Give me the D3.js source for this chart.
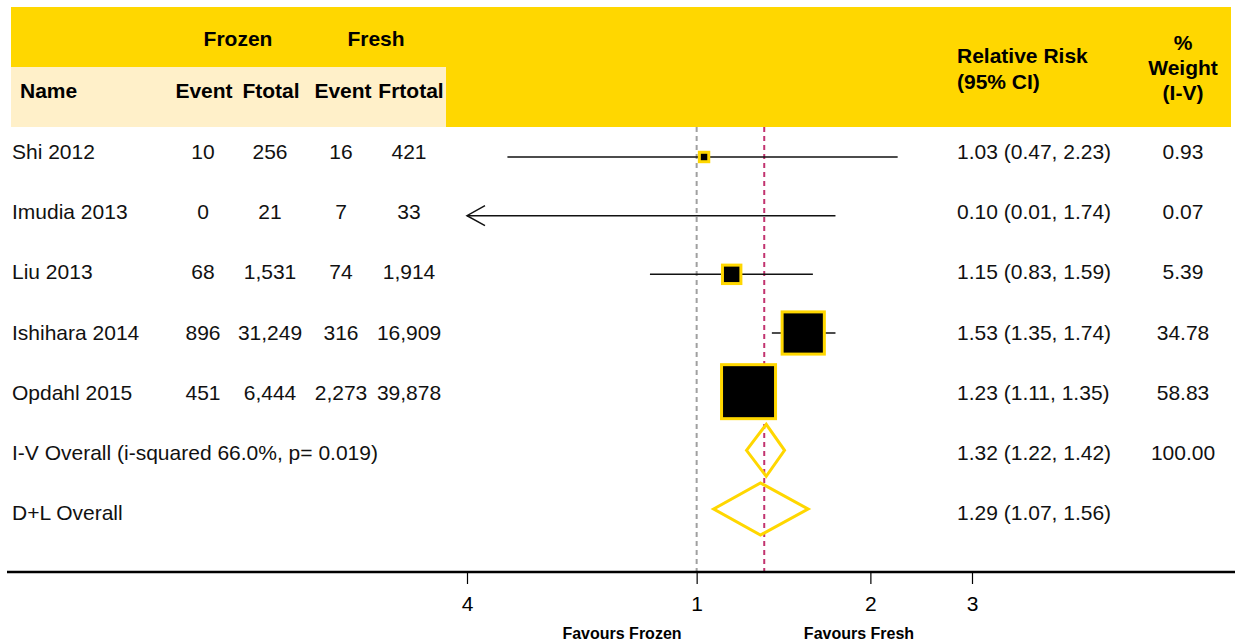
<!DOCTYPE html>
<html>
<head>
<meta charset="utf-8">
<script src="https://cdn.jsdelivr.net/npm/d3@7"></script>
<style>
  body { margin: 0; background: #fff; }
  text { font-family: "Liberation Sans", Arial, sans-serif; }
</style>
</head>
<body>
<svg id="forest" width="1235" height="644"></svg>
<script>
const svg = d3.select("#forest"),
  width = +svg.attr("width"),
  height = +svg.attr("height");

// study rows
const names = ["Shi 2012", "Imudia 2013", "Liu 2013", "Ishihara 2014", "Opdahl 2015"];
const frozenEvent = ["10", "0", "68", "896", "451"];
const frozenTotal = ["256", "21", "1,531", "31,249", "6,444"];
const freshEvent = ["16", "7", "74", "316", "2,273"];
const freshTotal = ["421", "33", "1,914", "16,909", "39,878"];
const rr = [1.03, 0.10, 1.15, 1.53, 1.23];
const lower = [0.47, 0.01, 0.83, 1.35, 1.11];
const upper = [2.23, 1.74, 1.59, 1.74, 1.35];
const weight = [0.93, 0.07, 5.39, 34.78, 58.83];

// pooled rows
const pooledNames = ["I-V Overall (i-squared 66.0%, p= 0.019)", "D+L Overall"];
const pooledRR = [1.32, 1.29];
const pooledLower = [1.22, 1.07];
const pooledUpper = [1.42, 1.56];
const pooledWeight = ["100.00", ""];

// axis
const tickValues = [0.4, 1, 2, 3];
const tickLabels = ["4", "1", "2", "3"];

const gold = "#ffd700";
const cream = "#fff0c9";
const fmt = d3.format(".2f");

// scales
const x = d3.scaleLog().domain([0.4, 3]).range([467, 972]);
const nRows = names.length + pooledNames.length;
const yText = d3.scaleLinear().domain([0, nRows - 1]).range([159, 520]);
const yMark = d3.scaleLinear().domain([0, nRows - 1]).range([157, 509]);
const boxSize = d3.scaleSqrt().domain([0, d3.max(weight)]).range([3, 54]);

// header bands
svg.append("rect").attr("x", 11).attr("y", 7).attr("width", 1220).attr("height", 120).attr("fill", gold);
svg.append("rect").attr("x", 11).attr("y", 67).attr("width", 435).attr("height", 60).attr("fill", cream);

const head = svg.append("g").attr("font-size", 21).attr("font-weight", "bold").attr("fill", "#000");
function headText(t, xx, yy, anchor) {
  head.append("text").attr("x", xx).attr("y", yy).attr("text-anchor", anchor || "middle").text(t);
}
headText("Frozen", 238, 46);
headText("Fresh", 376, 46);
headText("Name", 20, 98, "start");
headText("Event", 204, 98);
headText("Ftotal", 271, 98);
headText("Event", 343, 98);
headText("Frtotal", 411, 98);
headText("Relative Risk", 957, 63, "start");
headText("(95% CI)", 957, 89, "start");
headText("%", 1183, 50);
headText("Weight", 1183, 75);
headText("(I-V)", 1183, 100);

// reference lines
const yTop = 127, yAxis = 572;
svg.append("line")
  .attr("x1", x(1)).attr("x2", x(1)).attr("y1", yTop).attr("y2", yAxis)
  .attr("stroke", "#a0a0a0").attr("stroke-width", 2).attr("stroke-dasharray", "5,4");
svg.append("line")
  .attr("x1", x(pooledRR[0]) - 2).attr("x2", x(pooledRR[0]) - 2).attr("y1", yTop).attr("y2", yAxis)
  .attr("stroke", "#c2336f").attr("stroke-width", 2).attr("stroke-dasharray", "5,4");

// body text
const body = svg.append("g").attr("font-size", 21).attr("fill", "#111");
names.forEach((n, i) => {
  const yy = yText(i);
  body.append("text").attr("x", 12).attr("y", yy).text(n);
  body.append("text").attr("x", 203).attr("y", yy).attr("text-anchor", "middle").text(frozenEvent[i]);
  body.append("text").attr("x", 270).attr("y", yy).attr("text-anchor", "middle").text(frozenTotal[i]);
  body.append("text").attr("x", 341).attr("y", yy).attr("text-anchor", "middle").text(freshEvent[i]);
  body.append("text").attr("x", 409).attr("y", yy).attr("text-anchor", "middle").text(freshTotal[i]);
  body.append("text").attr("x", 957).attr("y", yy)
    .text(`${fmt(rr[i])} (${fmt(lower[i])}, ${fmt(upper[i])})`);
  body.append("text").attr("x", 1183).attr("y", yy).attr("text-anchor", "middle").text(fmt(weight[i]));
});
pooledNames.forEach((n, j) => {
  const yy = yText(names.length + j);
  body.append("text").attr("x", 12).attr("y", yy).text(n);
  body.append("text").attr("x", 957).attr("y", yy)
    .text(`${fmt(pooledRR[j])} (${fmt(pooledLower[j])}, ${fmt(pooledUpper[j])})`);
  body.append("text").attr("x", 1183).attr("y", yy).attr("text-anchor", "middle").text(pooledWeight[j]);
});

// confidence intervals
const plot = svg.append("g");
const [dMin, dMax] = x.domain();
names.forEach((n, i) => {
  const yy = yMark(i);
  const lo = Math.max(lower[i], dMin), hi = Math.min(upper[i], dMax);
  plot.append("line")
    .attr("x1", x(lo)).attr("x2", x(hi)).attr("y1", yy).attr("y2", yy)
    .attr("stroke", "#111").attr("stroke-width", 1.5);
  if (lower[i] < dMin) {
    const tip = x(dMin);
    plot.append("path")
      .attr("d", `M${tip + 18},${yy - 10}L${tip},${yy}L${tip + 18},${yy + 10}`)
      .attr("fill", "none").attr("stroke", "#111").attr("stroke-width", 1.5);
  }
});

// weighted boxes
names.forEach((n, i) => {
  if (rr[i] < dMin) return;
  const s = boxSize(weight[i]);
  plot.append("rect")
    .attr("x", x(rr[i]) - s / 2).attr("y", yMark(i) - s / 2)
    .attr("width", s).attr("height", s)
    .attr("fill", "#000").attr("stroke", gold).attr("stroke-width", 3);
});

// pooled diamonds
pooledNames.forEach((n, j) => {
  const yy = yMark(names.length + j);
  const h = 26;
  const pts = [[x(pooledLower[j]), yy], [x(pooledRR[j]), yy - h], [x(pooledUpper[j]), yy], [x(pooledRR[j]), yy + h]];
  plot.append("path")
    .attr("d", "M" + pts.map((p) => p.join(",")).join("L") + "Z")
    .attr("fill", "none").attr("stroke", gold).attr("stroke-width", 3);
});

// axis
svg.append("line").attr("x1", 7).attr("x2", width).attr("y1", yAxis).attr("y2", yAxis)
  .attr("stroke", "#000").attr("stroke-width", 2.5);
const axis = d3.axisBottom(x)
  .tickValues(tickValues)
  .tickFormat((d, i) => tickLabels[i])
  .tickSize(12)
  .tickPadding(12);
const gAxis = svg.append("g").attr("transform", `translate(0,${yAxis})`).call(axis);
gAxis.select(".domain").remove();
gAxis.selectAll(".tick line").attr("stroke", "#000").attr("stroke-width", 1.2);
gAxis.selectAll(".tick text")
  .attr("font-family", "'Liberation Sans Narrow', 'Liberation Sans', Arial, sans-serif")
  .attr("font-size", 21).attr("fill", "#000");

svg.append("text").attr("x", 622).attr("y", 639).attr("text-anchor", "middle")
  .attr("font-family", "'Liberation Sans Narrow', 'Liberation Sans', Arial, sans-serif")
  .attr("font-size", 16).attr("font-weight", "bold").text("Favours Frozen");
svg.append("text").attr("x", 859).attr("y", 639).attr("text-anchor", "middle")
  .attr("font-family", "'Liberation Sans Narrow', 'Liberation Sans', Arial, sans-serif")
  .attr("font-size", 16).attr("font-weight", "bold").text("Favours Fresh");
</script>
</body>
</html>
